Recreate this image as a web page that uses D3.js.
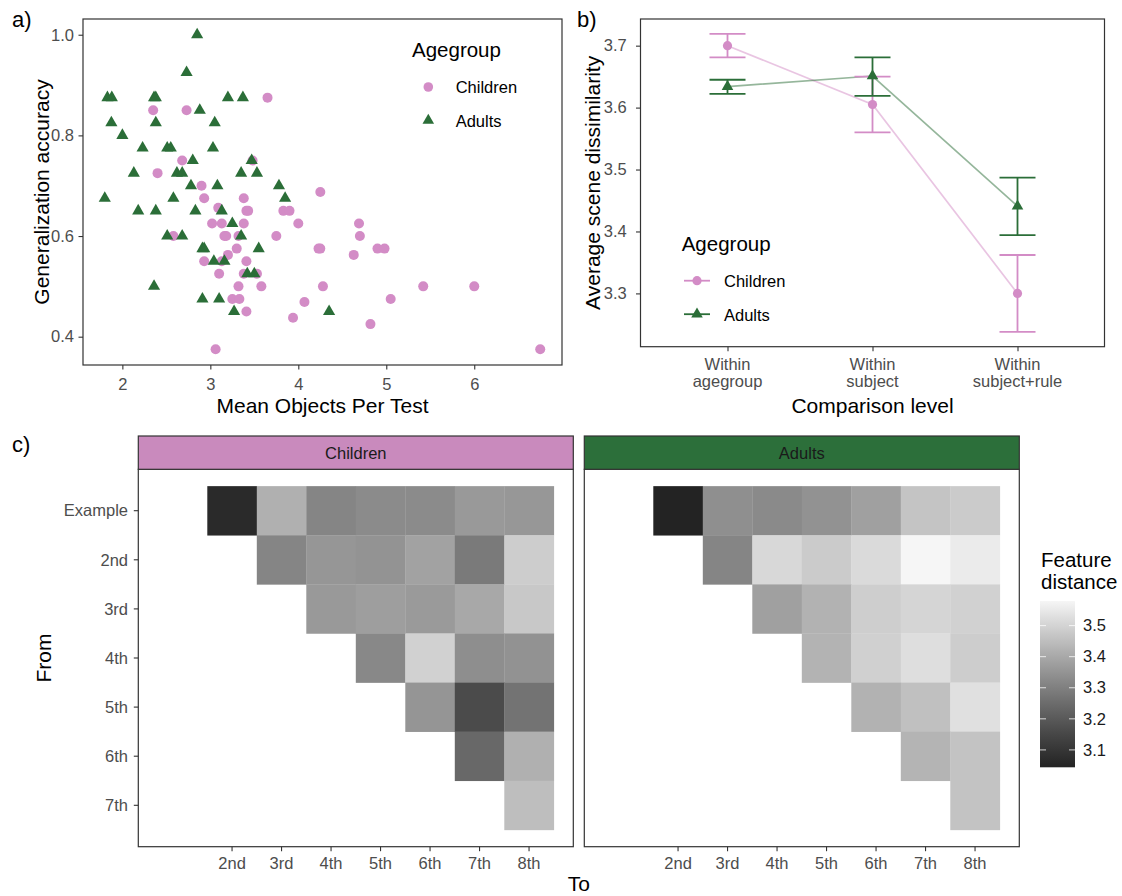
<!DOCTYPE html>
<html><head><meta charset="utf-8">
<script src="https://cdn.jsdelivr.net/npm/d3@7"></script>
<style>
body{margin:0;background:#fff;}
svg text{font-family:"Liberation Sans",Arial,Helvetica,sans-serif;}
</style></head><body>
<svg id="fig" width="1122" height="896"></svg>
<script>
// ---------- data ----------
const groups = ["Children", "Adults"];

// a) generalization accuracy vs mean objects per test
const childX = [3.65,2.35,2.73,2.68,3.48,2.40,2.90,4.25,2.93,3.38,3.09,3.41,3.43,3.83,3.90,3.02,3.13,3.38,4.00,4.69,
  2.58,3.16,3.18,3.32,3.75,4.70,3.30,4.23,4.25,4.90,4.98,3.20,4.63,2.93,3.13,3.41,3.10,3.38,3.53,3.32,
  3.58,4.28,5.42,6.00,3.25,3.33,5.05,4.07,3.41,3.94,4.82,3.06,6.75];
const childY = [0.875,0.85,0.85,0.75,0.75,0.725,0.70,0.6875,0.675,0.675,0.656,0.65,0.65,0.65,0.65,0.625,0.625,0.625,0.625,0.625,
  0.60,0.60,0.60,0.60,0.60,0.60,0.575,0.575,0.575,0.575,0.575,0.5625,0.5625,0.55,0.55,0.55,0.525,0.525,0.525,0.50,
  0.50,0.50,0.50,0.50,0.475,0.475,0.475,0.469,0.45,0.4375,0.425,0.375,0.375];
const adultX = [2.85,2.73,1.83,1.88,2.36,2.38,3.20,3.37,2.88,1.875,2.38,3.05,2.00,2.23,2.51,2.55,3.03,2.80,3.47,2.13,
  2.62,2.68,3.35,3.53,2.78,3.08,3.78,1.80,2.58,3.85,2.18,2.38,2.83,3.13,3.25,2.51,2.68,3.35,2.91,2.93,
  3.55,3.04,3.16,3.42,3.50,2.36,2.91,3.10,3.27,4.35];
const adultY = [1.0,0.925,0.875,0.875,0.875,0.875,0.875,0.875,0.85,0.825,0.825,0.825,0.80,0.775,0.775,0.775,0.775,0.75,0.75,0.725,
  0.725,0.725,0.725,0.725,0.70,0.70,0.70,0.675,0.675,0.675,0.65,0.65,0.65,0.65,0.625,0.60,0.60,0.60,0.575,0.575,
  0.575,0.55,0.55,0.525,0.525,0.50,0.475,0.475,0.45,0.45];
const accTicks = [0.4, 0.6, 0.8, 1.0];
const objTicks = [2, 3, 4, 5, 6];

// b) average scene dissimilarity by comparison level
const levelLines = [["Within","agegroup"], ["Within","subject"], ["Within","subject+rule"]];
const childMean = [3.700, 3.605, 3.300];
const childLo   = [3.681, 3.560, 3.238];
const childHi   = [3.719, 3.650, 3.362];
const adultMean = [3.634, 3.651, 3.441];
const adultLo   = [3.622, 3.619, 3.394];
const adultHi   = [3.645, 3.681, 3.487];
const dissimTicks = [3.3, 3.4, 3.5, 3.6, 3.7];

// c) feature distance between test positions
const fromLevels = ["Example","2nd","3rd","4th","5th","6th","7th"];
const toLevels   = ["Example","2nd","3rd","4th","5th","6th","7th","8th"];
const toShown    = ["2nd","3rd","4th","5th","6th","7th","8th"];
// rows = from, columns = to (2nd..8th)
const childDist = [
  [3.066,3.418,3.313,3.328,3.328,3.362,3.358],
  [null, 3.313,3.355,3.348,3.384,3.285,3.486],
  [null, null, 3.362,3.375,3.365,3.399,3.474],
  [null, null, null, 3.320,3.495,3.335,3.346],
  [null, null, null, null, 3.353,3.161,3.267],
  [null, null, null, null, null, 3.239,3.418],
  [null, null, null, null, null, null, 3.450]
];
const adultDist = [
  [3.044,3.338,3.326,3.346,3.379,3.465,3.481],
  [null, 3.313,3.511,3.481,3.515,3.579,3.554],
  [null, null, 3.379,3.423,3.488,3.504,3.495],
  [null, null, null, 3.425,3.493,3.524,3.486],
  [null, null, null, null, 3.423,3.456,3.529],
  [null, null, null, null, null, 3.427,3.463],
  [null, null, null, null, null, null, 3.463]
];
const distTicks = [3.1, 3.2, 3.3, 3.4, 3.5];

// ---------- styling ----------
const childCol = "#d38cc6", adultCol = "#2b6e38";
const stripFill = {Children: "#c98abd", Adults: "#2c6f3a"};
const tickCol = "#4d4d4d", lineCol = "#333333";
const tickFont = 16.5, titleFont = 21, legTitleFont = 20.5;
const tickLen = 4.5;

const svg = d3.select("#fig");

function expand(ext, m = 0.05) {
  const r = ext[1] - ext[0];
  return [ext[0] - r * m, ext[1] + r * m];
}
function styleAxis(g) {
  g.select(".domain").remove();
  g.selectAll(".tick line").attr("stroke", lineCol).attr("stroke-width", 1.1);
  g.selectAll(".tick text").attr("fill", tickCol).style("font-size", tickFont + "px");
}
function border(x0, y0, x1, y1) {
  svg.append("rect").attr("x", x0).attr("y", y0).attr("width", x1 - x0).attr("height", y1 - y0)
    .attr("fill", "none").attr("stroke", lineCol).attr("stroke-width", 1.2);
}
const tri = size => d3.symbol(d3.symbolTriangle, size)();

// ================= a) =================
const A = {l: 83, r: 562, t: 19, b: 365};
const xA = d3.scaleLinear().domain(expand(d3.extent(childX.concat(adultX)))).range([A.l, A.r]);
const yA = d3.scaleLinear().domain(expand(d3.extent(childY.concat(adultY)))).range([A.b, A.t]);

svg.append("g").attr("transform", `translate(0,${A.b})`)
  .call(d3.axisBottom(xA).tickValues(objTicks).tickFormat(d3.format("d")).tickSize(tickLen).tickPadding(8.3))
  .call(styleAxis);
svg.append("g").attr("transform", `translate(${A.l},0)`)
  .call(d3.axisLeft(yA).tickValues(accTicks).tickFormat(d3.format(".1f")).tickSize(tickLen).tickPadding(4.5))
  .call(styleAxis);

const childPts = childX.map((x, i) => ({x, y: childY[i]}));
const adultPts = adultX.map((x, i) => ({x, y: adultY[i]}));
svg.append("g").selectAll("circle").data(childPts).join("circle")
  .attr("cx", d => xA(d.x)).attr("cy", d => yA(d.y)).attr("r", 5).attr("fill", childCol);
svg.append("g").selectAll("path").data(adultPts).join("path")
  .attr("d", tri(64)).attr("transform", d => `translate(${xA(d.x)},${yA(d.y)})`).attr("fill", adultCol);
border(A.l, A.t, A.r, A.b);

svg.append("text").attr("x", (A.l + A.r) / 2).attr("y", 413).attr("text-anchor", "middle")
  .style("font-size", titleFont + "px").text("Mean Objects Per Test");
svg.append("text").attr("transform", `translate(49,${(A.t + A.b) / 2}) rotate(-90)`).attr("text-anchor", "middle")
  .style("font-size", titleFont + "px").text("Generalization accuracy");

// legend a
const legA = svg.append("g");
legA.append("text").attr("x", 412).attr("y", 56.7).style("font-size", legTitleFont + "px").text("Agegroup");
legA.append("circle").attr("cx", 428.3).attr("cy", 87).attr("r", 4.8).attr("fill", childCol);
legA.append("text").attr("x", 455.7).attr("y", 93.3).style("font-size", tickFont + "px").text(groups[0]);
legA.append("path").attr("d", tri(58)).attr("transform", "translate(428.3,120.5)").attr("fill", adultCol);
legA.append("text").attr("x", 455.7).attr("y", 127).style("font-size", tickFont + "px").text(groups[1]);

// ================= b) =================
const B = {l: 640.5, r: 1104.5, t: 19, b: 346.7};
const levelIdx = d3.range(levelLines.length);
const xB = d3.scalePoint().domain(levelIdx).range([B.l, B.r]).padding(0.6);
const yB = d3.scaleLinear()
  .domain(expand([d3.min(childLo.concat(adultLo)), d3.max(childHi.concat(adultHi))]))
  .range([B.b, B.t]);

svg.append("g").attr("transform", `translate(${B.l},0)`)
  .call(d3.axisLeft(yB).tickValues(dissimTicks).tickFormat(d3.format(".1f")).tickSize(tickLen).tickPadding(9.3))
  .call(styleAxis);
const xAxB = svg.append("g").attr("transform", `translate(0,${B.b})`)
  .call(d3.axisBottom(xB).tickSize(tickLen).tickFormat(""));
xAxB.call(styleAxis);
levelIdx.forEach(i => {
  const t = svg.append("text").attr("x", xB(i)).attr("y", 370).attr("text-anchor", "middle")
    .attr("fill", tickCol).style("font-size", tickFont + "px");
  levelLines[i].forEach((s, k) => t.append("tspan").attr("x", xB(i)).attr("dy", k ? 16.5 : 0).text(s));
});

const seriesB = [
  {name: groups[0], col: childCol, mean: childMean, lo: childLo, hi: childHi, shape: "circle"},
  {name: groups[1], col: adultCol, mean: adultMean, lo: adultLo, hi: adultHi, shape: "triangle"}
];
const lineB = d3.line().x((d, i) => xB(i)).y(d => yB(d));
seriesB.forEach(s => {
  svg.append("path").datum(s.mean).attr("d", lineB).attr("fill", "none")
    .attr("stroke", s.col).attr("stroke-opacity", 0.5).attr("stroke-width", 1.7);
});
seriesB.forEach(s => {
  const g = svg.append("g").attr("stroke", s.col).attr("stroke-width", 1.8).attr("fill", "none");
  levelIdx.forEach(i => {
    const x = xB(i), w = 18;
    g.append("line").attr("x1", x).attr("x2", x).attr("y1", yB(s.lo[i])).attr("y2", yB(s.hi[i]));
    g.append("line").attr("x1", x - w).attr("x2", x + w).attr("y1", yB(s.lo[i])).attr("y2", yB(s.lo[i]));
    g.append("line").attr("x1", x - w).attr("x2", x + w).attr("y1", yB(s.hi[i])).attr("y2", yB(s.hi[i]));
  });
});
seriesB.forEach(s => {
  levelIdx.forEach(i => {
    if (s.shape === "circle")
      svg.append("circle").attr("cx", xB(i)).attr("cy", yB(s.mean[i])).attr("r", 4.6).attr("fill", s.col);
    else
      svg.append("path").attr("d", tri(58)).attr("transform", `translate(${xB(i)},${yB(s.mean[i])})`).attr("fill", s.col);
  });
});
border(B.l, B.t, B.r, B.b);

svg.append("text").attr("x", (B.l + B.r) / 2).attr("y", 413).attr("text-anchor", "middle")
  .style("font-size", titleFont + "px").text("Comparison level");
svg.append("text").attr("transform", `translate(599.5,${(B.t + B.b) / 2}) rotate(-90)`).attr("text-anchor", "middle")
  .style("font-size", titleFont + "px").text("Average scene dissimilarity");

// legend b
const legB = svg.append("g");
legB.append("text").attr("x", 681.7).attr("y", 250.5).style("font-size", legTitleFont + "px").text("Agegroup");
seriesB.forEach((s, k) => {
  const y = 280.7 + k * 33.5;
  legB.append("line").attr("x1", 684).attr("x2", 710).attr("y1", y).attr("y2", y)
    .attr("stroke", s.col).attr("stroke-width", 1.8);
  if (s.shape === "circle") legB.append("circle").attr("cx", 697).attr("cy", y).attr("r", 4.6).attr("fill", s.col);
  else legB.append("path").attr("d", tri(58)).attr("transform", `translate(697,${y})`).attr("fill", s.col);
  legB.append("text").attr("x", 724).attr("y", y + 6.3).style("font-size", tickFont + "px").text(s.name);
});

// ================= c) =================
const C = {t: 469.3, b: 846.7, stripT: 436, w: 435, lefts: [138.3, 584.3]};
const allDist = childDist.flat().concat(adultDist.flat()).filter(v => v != null);
const distExt = d3.extent(allDist);
const fill = d3.scaleLinear().domain(distExt).range(["#232323", "#f6f6f6"]).interpolate(d3.interpolateLab);
const xC = d3.scaleBand().domain(toLevels).range([0, C.w]).paddingInner(0).paddingOuter(0.394);
const yC = d3.scaleBand().domain(fromLevels).range([C.t, C.b]).paddingInner(0).paddingOuter(0.343);

[childDist, adultDist].forEach((mat, p) => {
  const L = C.lefts[p];
  const cells = [];
  mat.forEach((row, r) => row.forEach((v, c) => { if (v != null) cells.push({from: fromLevels[r], to: toShown[c], v}); }));
  svg.append("g").selectAll("rect").data(cells).join("rect")
    .attr("x", d => L + xC(d.to)).attr("y", d => yC(d.from))
    .attr("width", xC.bandwidth() + 0.3).attr("height", yC.bandwidth() + 0.3)
    .attr("fill", d => fill(d.v));
  // x axis
  const xs = d3.scaleOrdinal().domain(toShown).range(toShown.map(t => L + xC(t) + xC.bandwidth() / 2));
  const gx = svg.append("g").attr("transform", `translate(0,${C.b})`);
  toShown.forEach(t => {
    gx.append("line").attr("x1", xs(t)).attr("x2", xs(t)).attr("y1", 0).attr("y2", tickLen)
      .attr("stroke", lineCol).attr("stroke-width", 1.1);
    gx.append("text").attr("x", xs(t)).attr("y", 869 - C.b).attr("text-anchor", "middle")
      .attr("fill", tickCol).style("font-size", tickFont + "px").text(t);
  });
  border(L, C.t, L + C.w, C.b);
  // strip
  svg.append("rect").attr("x", L).attr("y", C.stripT).attr("width", C.w).attr("height", C.t - C.stripT)
    .attr("fill", stripFill[groups[p]]).attr("stroke", lineCol).attr("stroke-width", 1.2);
  svg.append("text").attr("x", L + C.w / 2).attr("y", 458.6).attr("text-anchor", "middle")
    .attr("fill", "#1a1a1a").style("font-size", tickFont + "px").text(groups[p]);
});
// y axis (first facet only)
const gyC = svg.append("g");
fromLevels.forEach(f => {
  const y = yC(f) + yC.bandwidth() / 2;
  gyC.append("line").attr("x1", C.lefts[0] - tickLen).attr("x2", C.lefts[0]).attr("y1", y).attr("y2", y)
    .attr("stroke", lineCol).attr("stroke-width", 1.1);
  gyC.append("text").attr("x", 128).attr("y", y).attr("dy", "0.35em").attr("text-anchor", "end")
    .attr("fill", tickCol).style("font-size", tickFont + "px").text(f);
});
svg.append("text").attr("x", (C.lefts[0] + C.lefts[1] + C.w) / 2).attr("y", 891).attr("text-anchor", "middle")
  .style("font-size", titleFont + "px").text("To");
svg.append("text").attr("transform", `translate(51,${(C.t + C.b) / 2}) rotate(-90)`).attr("text-anchor", "middle")
  .style("font-size", titleFont + "px").text("From");

// colour bar
const CB = {x: 1040, w: 35, t: 601, b: 767.3};
const yCB = d3.scaleLinear().domain(distExt).range([CB.b, CB.t]);
const grad = svg.append("defs").append("linearGradient").attr("id", "distGrad")
  .attr("x1", 0).attr("y1", 1).attr("x2", 0).attr("y2", 0);
d3.range(0, 1.0001, 0.05).forEach(t => {
  grad.append("stop").attr("offset", t).attr("stop-color", fill(distExt[0] + t * (distExt[1] - distExt[0])));
});
svg.append("rect").attr("x", CB.x).attr("y", CB.t).attr("width", CB.w).attr("height", CB.b - CB.t)
  .attr("fill", "url(#distGrad)");
distTicks.forEach(v => {
  const y = yCB(v);
  [[CB.x, CB.x + 6], [CB.x + CB.w - 6, CB.x + CB.w]].forEach(([a, b]) =>
    svg.append("line").attr("x1", a).attr("x2", b).attr("y1", y).attr("y2", y)
      .attr("stroke", "#ffffff").attr("stroke-opacity", 0.7).attr("stroke-width", 1.1));
  svg.append("text").attr("x", 1083).attr("y", y).attr("dy", "0.35em")
    .style("font-size", tickFont + "px").attr("fill", "#1a1a1a").text(d3.format(".1f")(v));
});
const cbTitle = svg.append("text").attr("x", 1041).attr("y", 566.5).style("font-size", legTitleFont + "px");
cbTitle.append("tspan").attr("x", 1041).text("Feature");
cbTitle.append("tspan").attr("x", 1041).attr("dy", 22).text("distance");

// panel tags
[["a)", 12, 27], ["b)", 577, 27], ["c)", 12, 452]].forEach(([s, x, y]) =>
  svg.append("text").attr("x", x).attr("y", y).style("font-size", "22px").text(s));
</script>
</body></html>
